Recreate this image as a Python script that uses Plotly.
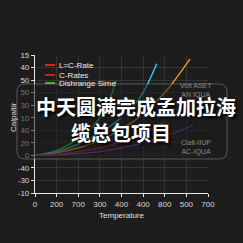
import plotly.graph_objects as go

# ---- data ----
green_x = [0, 50, 100, 150, 200, 250, 300, 340, 373]
green_y = [0, 1.5, 4, 8, 13, 20, 30, 42, 59]
cyan_x = [0, 100, 200, 300, 400, 450, 500, 563]
cyan_y = [0, 3, 9, 18, 30, 38, 50, 73]
orange_x = [0, 100, 200, 300, 400, 500, 600, 717]
orange_y = [0, 2, 6, 12, 21, 33, 50, 77]
red_x = [0, 100, 200, 300, 400, 500, 602]
red_y = [0, 1, 3, 6, 11, 18, 27]
purple_x = [0, 100, 200, 300, 400, 500, 600, 731]
purple_y = [0, 0.5, 1.5, 3, 6, 10, 15, 24]

x_tickvals = [0, 100, 200, 300, 400, 500, 600, 700, 800]
x_ticktext = ["0", "200", "700", "300", "400", "400", "800", "500", "700"]
y_tickvals = [-30, -20, -10, 0, 10, 20, 30, 40, 50, 60, 70, 80]
y_ticktext = ["-10", "-30", "-40", "0", "20", "40", "10", "30", "50", "50", "40", "15"]

legend_names = ["L=C-Rate", "C-Rates", "Dishrange Sime"]
legend_colors = ["#e0201c", "#d41c1c", "#2fbf2f"]

title_line1 = "中天圆满完成孟加拉海"
title_line2 = "缆总包项目"
side_top = ["Volt ASET", "AN IQUA"]
side_bottom = ["Clalt-IIUP", "AC-IQUA"]

# ---- layout geometry ----
W = H = 243
L, R, T, B = 35, 35, 55, 50
PW, PH = W - L - R, H - T - B


def px(x):
    return (x - L) / PW


def py(y):
    return (H - B - y) / PH


fig = go.Figure()
series = [
    (green_x, green_y, "#36c236"),
    (cyan_x, cyan_y, "#2fd8ea"),
    (orange_x, orange_y, "#f4a024"),
    (red_x, red_y, "#c81e1e"),
    (purple_x, purple_y, "#7a3fc0"),
]
for xs, ys, c in series:
    fig.add_trace(go.Scatter(x=xs, y=ys, mode="lines", line=dict(color=c, width=1.3, shape="spline"),
                             showlegend=False, hoverinfo="skip"))

shapes = []
annotations = []

# manual legend
leg_y = [65, 75, 83]
for name, col, yy in zip(legend_names, legend_colors, leg_y):
    shapes.append(dict(type="line", xref="paper", yref="paper", x0=px(45), x1=px(55), y0=py(yy), y1=py(yy),
                       line=dict(color=col, width=2), layer="above"))
    annotations.append(dict(text=name, xref="paper", yref="paper", x=px(58), y=py(yy), xanchor="left",
                            yanchor="middle", showarrow=False, borderpad=0,
                            font=dict(family="Liberation Sans", size=8, color="#ececec")))

# overlay rounded box
x0, x1, y0, y1, r = 17, 227, 84, 159, 8
def P(x, y):
    return f"{px(x):.5f},{py(y):.5f}"
path = (f"M {P(x0 + r, y0)} L {P(x1 - r, y0)} Q {P(x1, y0)} {P(x1, y0 + r)} "
        f"L {P(x1, y1 - r)} Q {P(x1, y1)} {P(x1 - r, y1)} L {P(x0 + r, y1)} "
        f"Q {P(x0, y1)} {P(x0, y1 - r)} L {P(x0, y0 + r)} Q {P(x0, y0)} {P(x0 + r, y0)} Z")
shapes.append(dict(type="path", xref="paper", yref="paper", path=path,
                   fillcolor="rgba(28,28,28,0.55)", line=dict(color="rgba(140,140,140,0.55)", width=1),
                   layer="above"))

annotations.append(dict(text="<br>".join(side_top), xref="paper", yref="paper", x=px(196), y=py(90),
                        xanchor="center", yanchor="middle", showarrow=False, borderpad=0,
                        font=dict(family="Liberation Sans", size=7, color="#8a8a8a")))
annotations.append(dict(text="<br>".join(side_bottom), xref="paper", yref="paper", x=px(196), y=py(147),
                        xanchor="center", yanchor="middle", showarrow=False, borderpad=0,
                        font=dict(family="Liberation Sans", size=7, color="#8a8a8a")))

annotations.append(dict(text=f"<b>{title_line1}<br>\u3000\u2002\u2005{title_line2}</b>",
                        xref="paper", yref="paper", x=px(35), y=py(119.5),
                        xanchor="left", yanchor="middle", align="left", showarrow=False, borderpad=0,
                        font=dict(family="Noto Sans CJK SC", size=20, color="#ffffff",
                                  shadow="2px 2px 3px #000000")))

annotations.append(dict(text="Calpaltir", xref="paper", yref="paper", x=px(13), y=py(117),
                        xanchor="center", yanchor="middle", showarrow=False, textangle=-90,
                        font=dict(family="Liberation Sans", size=8, color="#dddddd")))

fig.update_layout(
    width=W, height=H, margin=dict(l=L, r=R, t=T, b=B),
    paper_bgcolor="#1d1d1d", plot_bgcolor="#1d1d1d",
    shapes=shapes, annotations=annotations, showlegend=False,
    xaxis=dict(range=[0, 800], tickvals=x_tickvals, ticktext=x_ticktext,
               showgrid=True, gridcolor="#343434", gridwidth=1, zeroline=False,
               showline=True, linecolor="#e8e8e8", linewidth=1.2, ticks="outside", ticklen=3,
               tickcolor="#e8e8e8", tickfont=dict(family="Liberation Sans", size=8, color="#d8d8d8"),
               title=dict(text="Temperature", standoff=4,
                          font=dict(family="Liberation Sans", size=8, color="#e0e0e0"))),
    yaxis=dict(range=[-30, 80], tickvals=y_tickvals, ticktext=y_ticktext,
               showgrid=True, gridcolor="#343434", gridwidth=1, zeroline=False,
               showline=True, linecolor="#e8e8e8", linewidth=1.2, ticks="outside", ticklen=3,
               tickcolor="#e8e8e8", tickfont=dict(family="Liberation Sans", size=8, color="#d8d8d8")),
)

fig.write_html("out.html")
